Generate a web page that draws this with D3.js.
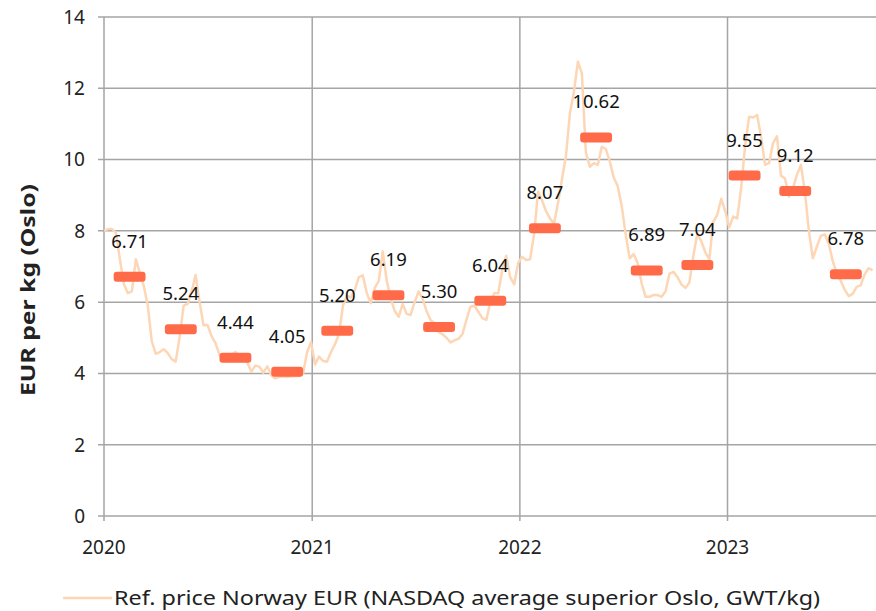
<!DOCTYPE html>
<html lang="en">
<head>
    <meta charset="UTF-8">
    <title>salmon price chart</title>
    <style>
        body{
            margin: 0;
            overflow: hidden;
            background: #fff;
        }
        text{
            font-family: "Century Gothic", "Noto Sans", sans-serif;
        }
    </style>
</head>
<body>
    <script src="https://cdnjs.cloudflare.com/ajax/libs/d3/7.8.2/d3.min.js"></script>
    <script>

// weekly reference price, first week starts 2020-01-01
const weekStart = new Date(2020, 0, 1)
const weeklyPrice = [
  8.00, 8.05, 8.05, 7.95, 7.20, 6.50, 6.25, 6.30, 7.20, 6.82,
  6.45, 5.90, 4.90, 4.55, 4.60, 4.68, 4.57, 4.40, 4.33, 5.03,
  5.90, 5.95, 6.30, 6.76, 6.00, 5.35, 5.36, 5.05, 4.85, 4.52,
  4.45, 4.45, 4.52, 4.60, 4.47, 4.42, 4.30, 4.05, 4.22, 4.19,
  4.02, 4.20, 3.95, 3.86, 3.90, 3.92, 3.90, 3.92, 3.92, 3.93,
  4.00, 4.60, 4.88, 4.25, 4.47, 4.35, 4.33, 4.60, 4.82, 5.10,
  5.90, 6.18, 6.13, 6.35, 6.70, 6.75, 6.25, 5.97, 6.40, 6.60,
  7.42, 6.60, 6.10, 5.75, 5.59, 5.95, 5.67, 5.64, 6.00, 6.30,
  6.10, 5.75, 5.50, 5.40, 5.16, 5.10, 5.00, 4.87, 4.93, 4.97,
  5.10, 5.50, 5.87, 5.90, 5.73, 5.55, 5.50, 6.00, 6.25, 6.25,
  6.90, 7.30, 6.70, 6.50, 7.10, 7.27, 7.18, 7.20, 7.90, 9.10,
  8.85, 8.55, 8.35, 8.20, 8.78, 9.45, 10.10, 11.30, 11.90, 12.75,
  12.42, 10.20, 9.80, 9.90, 9.85, 10.36, 10.30, 9.95, 9.50, 9.25,
  8.70, 7.90, 7.23, 7.35, 7.10, 6.53, 6.15, 6.15, 6.20, 6.20,
  6.15, 6.30, 6.80, 6.85, 6.70, 6.50, 6.40, 6.55, 7.30, 7.93,
  7.70, 7.40, 7.20, 8.25, 8.45, 8.90, 8.55, 8.10, 8.40, 8.35,
  9.20, 10.40, 11.20, 11.18, 11.25, 10.64, 9.85, 9.90, 10.46, 10.65,
  9.55, 9.47, 8.96, 9.19, 9.57, 9.85, 9.10, 8.00, 7.23, 7.56,
  7.86, 7.90, 7.63, 7.15, 6.80, 6.60, 6.35, 6.17, 6.23, 6.43,
  6.47, 6.78, 6.95, 6.90
]

// quarterly averages and where they sit on the time axis
const quarterDates = [
  '2020-02-15', '2020-05-15', '2020-08-19', '2020-11-18',
  '2021-02-14', '2021-05-15', '2021-08-12', '2021-11-10',
  '2022-02-14', '2022-05-15', '2022-08-12', '2022-11-09',
  '2023-01-31', '2023-04-30', '2023-07-28'
]
const quarterAvg = [
  6.71, 5.24, 4.44, 4.05,
  5.20, 6.19, 5.30, 6.04,
  8.07, 10.62, 6.89, 7.04,
  9.55, 9.12, 6.78
]

const yTicks = [0, 2, 4, 6, 8, 10, 12, 14]
const yearTicks = [2020, 2021, 2022, 2023]
const legendLabel = 'Ref. price Norway EUR (NASDAQ average superior Oslo, GWT/kg)'
const yTitle = 'EUR per kg (Oslo)'

const width = 876, height = 611
const margin = {top: 17, right: 0, bottom: 95, left: 104}

const svg = d3.select('body')
  .append('svg')
  .attr('width', width)
  .attr('height', height)

const x = d3.scaleTime()
  .domain([new Date(2020, 0, 1), new Date(2023, 8, 19)])
  .range([margin.left, width - margin.right])

const y = d3.scaleLinear()
  .domain([0, 14])
  .range([height - margin.bottom, margin.top])

const gridColor = '#a5a5a5'

// horizontal grid
svg.append('g')
  .selectAll('line')
  .data(yTicks)
  .join('line')
  .attr('x1', margin.left - 6)
  .attr('x2', width)
  .attr('y1', d => y(d))
  .attr('y2', d => y(d))
  .attr('stroke', gridColor)
  .attr('stroke-width', 1.5)

// vertical grid at years
svg.append('g')
  .selectAll('line')
  .data(yearTicks)
  .join('line')
  .attr('x1', d => x(new Date(d, 0, 1)))
  .attr('x2', d => x(new Date(d, 0, 1)))
  .attr('y1', y(14))
  .attr('y2', y(0) + 5)
  .attr('stroke', gridColor)
  .attr('stroke-width', 1.5)

// y tick labels
svg.append('g')
  .selectAll('text')
  .data(yTicks)
  .join('text')
  .attr('x', margin.left - 19)
  .attr('y', d => y(d))
  .attr('dy', '0.36em')
  .attr('text-anchor', 'end')
  .attr('font-size', 19)
  .attr('fill', '#222')
  .text(d => d)

// x tick labels
svg.append('g')
  .selectAll('text')
  .data(yearTicks)
  .join('text')
  .attr('x', d => x(new Date(d, 0, 1)))
  .attr('y', y(0) + 38)
  .attr('text-anchor', 'middle')
  .attr('font-size', 19)
  .attr('fill', '#222')
  .text(d => d)

// y title
svg.append('text')
  .attr('transform', `translate(35,290) rotate(-90)`)
  .attr('text-anchor', 'middle')
  .attr('font-size', 19)
  .attr('font-weight', 'bold')
  .attr('fill', '#222')
  .attr('textLength', 212)
  .attr('lengthAdjust', 'spacingAndGlyphs')
  .text(yTitle)

// weekly price line
const line = d3.line()
  .x((d, i) => x(d3.timeDay.offset(weekStart, i * 7)))
  .y(d => y(d))

svg.append('path')
  .datum(weeklyPrice)
  .attr('d', line)
  .attr('fill', 'none')
  .attr('stroke', '#fdd6b5')
  .attr('stroke-width', 2.5)
  .attr('stroke-linejoin', 'round')

// quarterly bars
const barHalf = 28 // days
const quarters = quarterDates.map((d, i) => ({date: d3.timeParse('%Y-%m-%d')(d), v: quarterAvg[i]}))

svg.append('g')
  .selectAll('rect')
  .data(quarters)
  .join('rect')
  .attr('x', d => x(d3.timeDay.offset(d.date, -barHalf)))
  .attr('width', d => x(d3.timeDay.offset(d.date, barHalf)) - x(d3.timeDay.offset(d.date, -barHalf)))
  .attr('y', d => y(d.v) - 5)
  .attr('height', 10)
  .attr('rx', 3)
  .attr('fill', '#ff6b48')

svg.append('g')
  .selectAll('text')
  .data(quarters)
  .join('text')
  .attr('x', d => x(d.date))
  .attr('y', d => y(d.v) - 29)
  .attr('text-anchor', 'middle')
  .attr('font-size', 18.5)
  .attr('fill', '#111')
  .text(d => d.v.toFixed(2))

// legend
const legend = svg.append('g')
legend.append('line')
  .attr('x1', 63).attr('x2', 112)
  .attr('y1', 598).attr('y2', 598)
  .attr('stroke', '#fdd6b5')
  .attr('stroke-width', 2.5)
legend.append('text')
  .attr('x', 114)
  .attr('y', 605)
  .attr('font-size', 19)
  .attr('fill', '#222')
  .attr('textLength', 706)
  .attr('lengthAdjust', 'spacingAndGlyphs')
  .text(legendLabel)

    </script>
</body>
</html>
